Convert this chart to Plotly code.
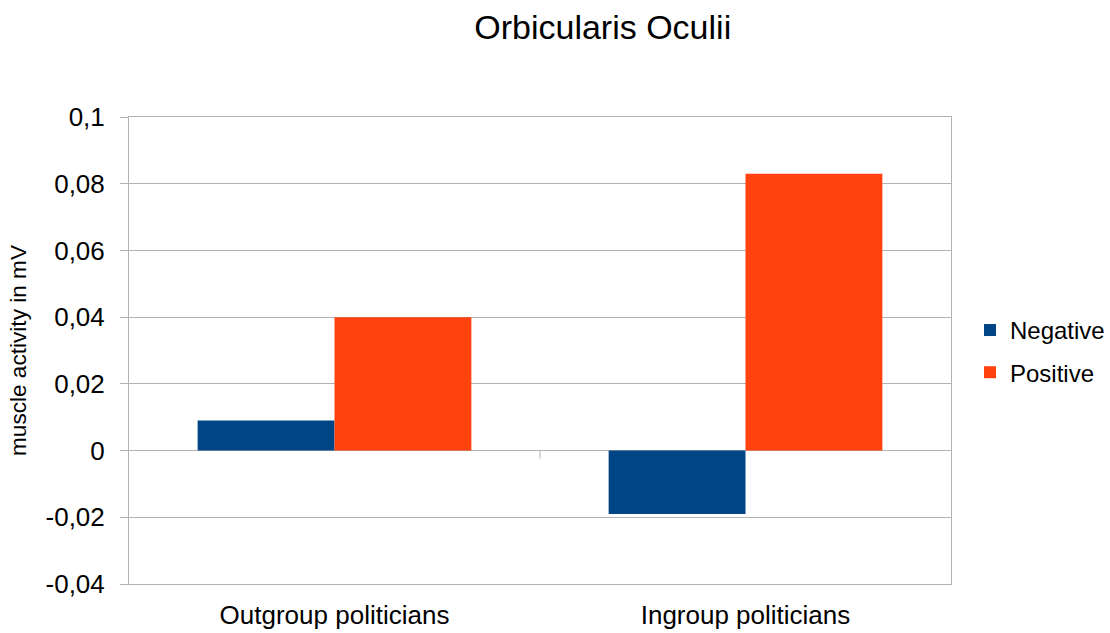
import plotly.graph_objects as go

# Chart data
categories = ["Outgroup politicians", "Ingroup politicians"]
negative = [0.009, -0.019]
positive = [0.040, 0.083]

# Y axis ticks (decimal comma labels)
y_tickvals = [-0.04, -0.02, 0, 0.02, 0.04, 0.06, 0.08, 0.1]
y_ticktext = ["-0,04", "-0,02", "0", "0,02", "0,04", "0,06", "0,08", "0,1"]

FONT = "Liberation Sans, Arial, sans-serif"
GRID = "#b3b3b3"

fig = go.Figure()
fig.add_trace(go.Bar(
    name="Negative", x=categories, y=negative,
    marker=dict(color="#004586", line=dict(width=0)),
    legendgroup="neg",
))
fig.add_trace(go.Bar(
    name="Positive", x=categories, y=positive,
    marker=dict(color="#ff420e", line=dict(width=0)),
    legendgroup="pos",
))

# small category-boundary tick hanging below the zero line
fig.add_shape(
    type="line", xref="x", yref="y",
    x0=0.5, x1=0.5, ysizemode="pixel", yanchor=0, y0=0, y1=-8,
    line=dict(color=GRID, width=1),
)

fig.update_layout(
    width=1110, height=633,
    margin=dict(l=129, r=159, t=117, b=49, autoexpand=False),
    paper_bgcolor="white", plot_bgcolor="white",
    font=dict(family=FONT, color="black", size=26),
    title=dict(
        text="Orbicularis Oculii", x=0.543, xanchor="center",
        y=1 - 27 / 633, yanchor="middle", yref="container",
        font=dict(size=34, family=FONT, color="black"),
    ),
    barmode="group", bargap=0.334, bargroupgap=0,
    showlegend=True,
    legend=dict(
        x=1.0231, xanchor="left", y=0.498, yanchor="middle",
        font=dict(size=24, family=FONT, color="black"),
        tracegroupgap=8, bgcolor="rgba(0,0,0,0)",
    ),
    xaxis=dict(
        showgrid=False, showline=True, mirror=True, linecolor=GRID, linewidth=1,
        ticks="", tickfont=dict(size=26), ticklabelstandoff=8, automargin=False,
    ),
    yaxis=dict(
        range=[-0.04, 0.1], tickvals=y_tickvals, ticktext=y_ticktext,
        showgrid=True, gridcolor=GRID, gridwidth=1,
        zeroline=True, zerolinecolor=GRID, zerolinewidth=1,
        showline=True, mirror=True, linecolor=GRID, linewidth=1,
        ticks="outside", ticklen=8, tickcolor=GRID, tickwidth=1,
        tickfont=dict(size=26), ticklabelstandoff=10, automargin=False,
        title=dict(text="muscle activity in mV", font=dict(size=22.6), standoff=12),
    ),
)

fig.write_html("out.html")
